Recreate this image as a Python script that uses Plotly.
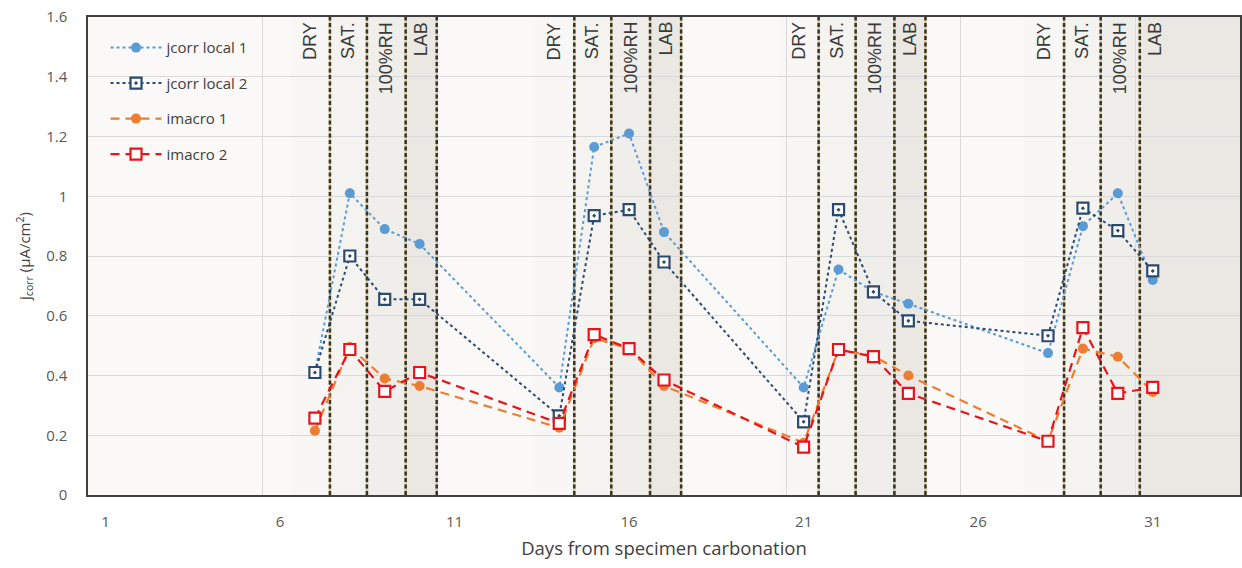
import plotly.graph_objects as go

# ---------------- data ----------------
days = [7, 8, 9, 10, 14, 15, 16, 17, 21, 22, 23, 24, 28, 29, 30, 31]
jcorr_local_1 = [0.41, 1.01, 0.89, 0.84, 0.36, 1.165, 1.21, 0.88,
                 0.36, 0.755, 0.68, 0.64, 0.475, 0.90, 1.01, 0.72]
jcorr_local_2 = [0.41, 0.80, 0.655, 0.655, 0.265, 0.935, 0.955, 0.78,
                 0.245, 0.955, 0.68, 0.583, 0.533, 0.96, 0.885, 0.75]
imacro_1 = [0.215, 0.495, 0.39, 0.365, 0.225, 0.525, 0.49, 0.365,
            0.175, 0.487, 0.465, 0.40, 0.18, 0.49, 0.463, 0.345]
imacro_2 = [0.257, 0.487, 0.347, 0.41, 0.24, 0.537, 0.49, 0.385,
            0.16, 0.487, 0.463, 0.34, 0.18, 0.56, 0.34, 0.36]

# exposure phases (day boundaries)
dry_start = [6.3, 13.3, 20.3, 27.3]
sat_start = [7.43, 14.43, 21.43, 28.46]
rh_start = [8.49, 15.49, 22.49, 29.51]
lab_start = [9.6, 16.6, 23.6, 30.63]
lab_end = [10.49, 17.49, 24.49, 31.5]
phase_labels = ["DRY", "SAT.", "100%RH", "LAB"]

x_tick_vals = [1, 6, 11, 16, 21, 26, 31]
x_tick_text = ["1", "6", "11", "16", "21", "26", "31"]
y_tick_vals = [0, 0.2, 0.4, 0.6, 0.8, 1.0, 1.2, 1.4, 1.6]

X_MIN, X_MAX = 0.5, 33.5
Y_MIN, Y_MAX = 0, 1.6

fig = go.Figure()

LIGHT_BLUE = "#5B9BD5"
DARK_BLUE = "#2A4A70"
ORANGE = "#ED7D31"
RED = "#E8141B"

fig.add_trace(go.Scatter(
    x=days, y=jcorr_local_1, name="jcorr local 1", mode="lines+markers",
    legendgroup="a",
    line=dict(color=LIGHT_BLUE, width=2, dash="dot"),
    marker=dict(symbol="circle", size=10, color=LIGHT_BLUE)))
fig.add_trace(go.Scatter(
    x=days, y=jcorr_local_2, name="jcorr local 2", mode="lines+markers",
    legendgroup="b",
    line=dict(color=DARK_BLUE, width=2, dash="dot"),
    marker=dict(symbol="square-dot", size=11, color="white",
                line=dict(color=DARK_BLUE, width=2.2))))
fig.add_trace(go.Scatter(
    x=days, y=imacro_1, name="imacro 1", mode="lines+markers",
    legendgroup="c",
    line=dict(color=ORANGE, width=2.2, dash="9px,6px"),
    marker=dict(symbol="circle", size=10, color=ORANGE)))
fig.add_trace(go.Scatter(
    x=days, y=imacro_2, name="imacro 2", mode="lines+markers",
    legendgroup="d",
    line=dict(color=RED, width=2.2, dash="9px,6px"),
    marker=dict(symbol="square", size=11, color="white",
                line=dict(color=RED, width=2.2))))

shapes = []
annotations = []
n = len(sat_start)
for i in range(n):
    last = (i == n - 1)
    band_end = X_MAX if last else lab_end[i]
    bands = [
        (dry_start[i], sat_start[i], "#f8f7f5"),
        (sat_start[i], rh_start[i], "#f4f3f0"),
        (rh_start[i], lab_start[i], "#f0eeea"),
        (lab_start[i], band_end, "#ebe8e3"),
    ]
    for x0, x1, col in bands:
        shapes.append(dict(type="rect", xref="x", yref="y", x0=x0, x1=x1,
                           y0=Y_MIN, y1=Y_MAX, fillcolor=col,
                           line=dict(width=0), layer="below"))
    bounds = [sat_start[i], rh_start[i], lab_start[i]]
    if not last:
        bounds.append(lab_end[i])
    for bx in bounds:
        shapes.append(dict(type="line", xref="x", yref="y", x0=bx, x1=bx,
                           y0=Y_MIN, y1=Y_MAX,
                           line=dict(color="#dccb9c", width=2.5),
                           layer="between"))
        shapes.append(dict(type="line", xref="x", yref="y", x0=bx, x1=bx,
                           y0=Y_MIN, y1=Y_MAX,
                           line=dict(color="#34332c", width=2.5, dash="4px,2.5px"),
                           layer="between"))
    label_x = [sat_start[i] - 0.57,
               (sat_start[i] + rh_start[i]) / 2,
               (rh_start[i] + lab_start[i]) / 2,
               (lab_start[i] + lab_end[i]) / 2]
    for lx, txt in zip(label_x, phase_labels):
        annotations.append(dict(
            x=lx, y=Y_MAX - 0.01, xref="x", yref="y", text=txt,
            showarrow=False, textangle=-90, xanchor="center", yanchor="top",
            font=dict(family="Liberation Sans, Arial", size=18, color="#3a3a3a")))

fig.update_layout(
    width=1242, height=568,
    margin=dict(l=88, r=2, t=17, b=73),
    paper_bgcolor="white",
    plot_bgcolor="#faf9f7",
    shapes=shapes,
    annotations=annotations,
    font=dict(family="Open Sans", color="#404040"),
    legend=dict(x=0.0152, y=0.97, xanchor="left", yanchor="top",
                bgcolor="rgba(0,0,0,0)", font=dict(size=15, color="#404040"),
                tracegroupgap=13, itemwidth=51),
    showlegend=True,
)

fig.update_xaxes(
    range=[X_MIN, X_MAX], tickmode="array", tickvals=x_tick_vals,
    ticktext=x_tick_text, showgrid=False, zeroline=False,
    ticks="", ticklabelstandoff=12, automargin=False,
    tickfont=dict(size=15, color="#595959"),
    minor=dict(tickmode="array", tickvals=[5.5, 10.5, 15.5, 20.5, 25.5, 30.5],
               showgrid=True, gridcolor="#d9d9d9", gridwidth=1, ticks=""),
    showline=True, linecolor="#404040", linewidth=1.5, mirror=True,
    title=dict(text="Days from specimen carbonation",
               font=dict(size=18.5, color="#404040"), standoff=12),
)
fig.update_yaxes(
    range=[Y_MIN, Y_MAX], tickmode="array", tickvals=y_tick_vals,
    showgrid=True, gridcolor="#d9d9d9", gridwidth=1, zeroline=False,
    ticks="", ticklabelstandoff=16, automargin=False,
    tickfont=dict(size=15, color="#595959"),
    showline=True, linecolor="#404040", linewidth=1.5, mirror=True,
    title=dict(text="j<sub>corr</sub> (μA/cm<sup>2</sup>)",
               font=dict(size=15, color="#404040"), standoff=12),
)

fig.write_html(
    "out.html",
    config={"displayModeBar": False},
    post_script="document.body.style.margin='0';document.body.style.overflow='hidden';",
)
